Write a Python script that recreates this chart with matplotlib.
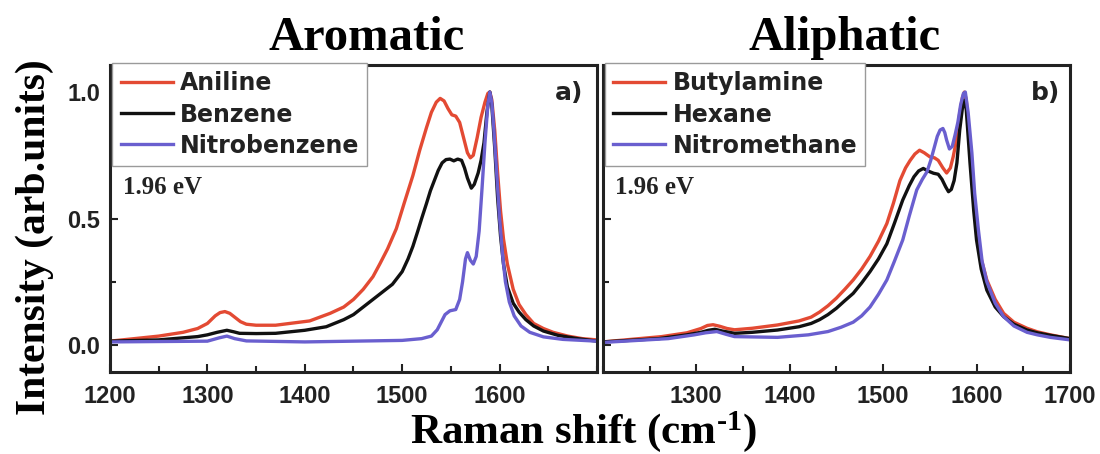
import matplotlib
matplotlib.use('Agg')
import matplotlib.pyplot as plt
from matplotlib.ticker import MultipleLocator, FixedLocator, FormatStrFormatter

# ---- data (Raman shift in cm-1, normalised intensity) ----
aniline_x = [1200, 1250, 1275, 1290, 1300, 1308, 1313, 1318, 1323, 1328, 1334, 1340, 1350,
             1370, 1405, 1426, 1440, 1450, 1460, 1470, 1477, 1485, 1494, 1502, 1511, 1518,
             1525, 1530, 1535, 1539, 1543, 1547, 1551, 1555, 1559, 1563, 1567, 1570, 1573,
             1577, 1581, 1585, 1588, 1590, 1592, 1595, 1598, 1601, 1604, 1608, 1614, 1620,
             1627, 1635, 1645, 1655, 1670, 1685, 1700]
aniline_y = [0.015, 0.035, 0.05, 0.065, 0.085, 0.115, 0.128, 0.132, 0.125, 0.11, 0.092, 0.082,
             0.078, 0.078, 0.095, 0.125, 0.15, 0.18, 0.22, 0.27, 0.32, 0.38, 0.46, 0.56, 0.67,
             0.77, 0.86, 0.92, 0.96, 0.975, 0.965, 0.935, 0.91, 0.905, 0.88, 0.82, 0.76, 0.74,
             0.75, 0.82, 0.9, 0.96, 0.995, 1.0, 0.97, 0.85, 0.68, 0.53, 0.42, 0.32, 0.22, 0.16,
             0.12, 0.085, 0.065, 0.05, 0.035, 0.025, 0.02]

benzene_x = [1200, 1250, 1290, 1300, 1310, 1320, 1327, 1333, 1350, 1370, 1400, 1422, 1440,
             1450, 1460, 1470, 1480, 1490, 1500, 1506, 1511, 1516, 1520, 1525, 1529, 1533,
             1537, 1541, 1545, 1549, 1553, 1557, 1561, 1564, 1567, 1571, 1574, 1578, 1581,
             1584, 1587, 1590, 1592, 1595, 1598, 1601, 1604, 1608, 1614, 1620, 1627, 1635,
             1645, 1660, 1680, 1700]
benzene_y = [0.015, 0.02, 0.033, 0.04, 0.05, 0.058, 0.052, 0.046, 0.045, 0.046, 0.058, 0.072,
             0.1, 0.12, 0.15, 0.18, 0.21, 0.24, 0.29, 0.34, 0.39, 0.45, 0.5, 0.56, 0.61, 0.65,
             0.69, 0.72, 0.733, 0.735, 0.728, 0.735, 0.73, 0.7, 0.66, 0.62, 0.635, 0.68, 0.73,
             0.8, 0.92, 1.0, 0.95, 0.78, 0.58, 0.43, 0.32, 0.23, 0.165, 0.13, 0.1, 0.075,
             0.055, 0.038, 0.025, 0.015]

nitrobenzene_x = [1200, 1300, 1312, 1320, 1328, 1340, 1400, 1500, 1520, 1530, 1536, 1540,
                  1544, 1549, 1555, 1559, 1562, 1565, 1567, 1570, 1573, 1576, 1579, 1582,
                  1585, 1588, 1590, 1592, 1594, 1597, 1600, 1603, 1606, 1610, 1615, 1622,
                  1631, 1645, 1665, 1700]
nitrobenzene_y = [0.012, 0.015, 0.028, 0.035, 0.025, 0.016, 0.012, 0.018, 0.025, 0.035, 0.06,
                  0.09, 0.12, 0.135, 0.14, 0.18, 0.25, 0.34, 0.365, 0.335, 0.32, 0.35, 0.45,
                  0.62, 0.8, 0.95, 1.0, 0.96, 0.86, 0.68, 0.5, 0.36, 0.25, 0.17, 0.115, 0.075,
                  0.05, 0.032, 0.022, 0.015]

butylamine_x = [1200, 1263, 1290, 1305, 1312, 1318, 1325, 1333, 1341, 1360, 1387, 1410,
                1423, 1432, 1441, 1450, 1459, 1468, 1477, 1486, 1495, 1504, 1511, 1518,
                1524, 1529, 1534, 1539, 1544, 1550, 1555, 1559, 1564, 1568, 1572, 1575,
                1578, 1582, 1585, 1587, 1589, 1593, 1597, 1600, 1605, 1611, 1620, 1629,
                1640, 1654, 1665, 1679, 1700]
butylamine_y = [0.012, 0.033, 0.048, 0.065, 0.077, 0.08, 0.074, 0.065, 0.06, 0.066, 0.079,
                0.095, 0.11, 0.13, 0.155, 0.185, 0.22, 0.257, 0.3, 0.35, 0.41, 0.48, 0.56,
                0.65, 0.7, 0.73, 0.755, 0.77, 0.76, 0.744, 0.74, 0.73, 0.7, 0.68, 0.7, 0.744,
                0.8, 0.916, 0.98, 1.0, 0.97, 0.78, 0.58, 0.455, 0.34, 0.257, 0.18, 0.125,
                0.09, 0.066, 0.052, 0.04, 0.025]

hexane_x = [1200, 1260, 1290, 1305, 1313, 1320, 1328, 1341, 1360, 1387, 1410, 1423, 1432,
            1441, 1450, 1459, 1468, 1477, 1486, 1495, 1504, 1512, 1521, 1528, 1533, 1538,
            1543, 1548, 1554, 1559, 1563, 1567, 1570, 1573, 1576, 1579, 1582, 1585, 1587,
            1589, 1593, 1597, 1600, 1605, 1611, 1620, 1629, 1640, 1654, 1665, 1679, 1700]
hexane_y = [0.012, 0.025, 0.04, 0.05, 0.058, 0.062, 0.055, 0.046, 0.05, 0.059, 0.072, 0.085,
            0.1, 0.12, 0.145, 0.175, 0.204, 0.245, 0.29, 0.34, 0.40, 0.48, 0.573, 0.63,
            0.665, 0.688, 0.698, 0.688, 0.679, 0.675, 0.655, 0.625, 0.606, 0.615, 0.65,
            0.72, 0.85, 0.94, 0.968, 0.93, 0.72, 0.53, 0.415, 0.3, 0.217, 0.15, 0.112,
            0.082, 0.059, 0.048, 0.038, 0.025]

nitromethane_x = [1200, 1270, 1298, 1310, 1322, 1332, 1341, 1387, 1420, 1441, 1455, 1468,
                  1477, 1486, 1495, 1504, 1512, 1521, 1528, 1536, 1542, 1547, 1551, 1555,
                  1558, 1561, 1564, 1566, 1568, 1571, 1574, 1577, 1580, 1583, 1586, 1588,
                  1591, 1595, 1598, 1602, 1606, 1611, 1620, 1629, 1640, 1654, 1665, 1679, 1700]
nitromethane_y = [0.01, 0.025, 0.04, 0.048, 0.053, 0.042, 0.033, 0.03, 0.04, 0.053, 0.07, 0.09,
                  0.115, 0.15, 0.2, 0.257, 0.33, 0.415, 0.51, 0.613, 0.655, 0.685, 0.73, 0.784,
                  0.825, 0.85, 0.856, 0.84, 0.81, 0.775, 0.785, 0.83, 0.88, 0.95, 0.995, 1.0,
                  0.92, 0.76, 0.6, 0.455, 0.33, 0.25, 0.165, 0.112, 0.075, 0.05, 0.04, 0.03, 0.02]

RED = '#e34a33'
BLACK = '#111111'
BLUE = '#6a5fcf'

SERIF = 'Liberation Serif'
NARROW = ['Liberation Sans Narrow', 'Liberation Sans', 'DejaVu Sans']

plt.rcParams['mathtext.fontset'] = 'custom'
plt.rcParams['mathtext.rm'] = 'Liberation Serif:bold'
plt.rcParams['mathtext.default'] = 'rm'

fig = plt.figure(figsize=(11, 4.54), dpi=100)
ax1 = fig.add_axes([0.100, 0.1806, 0.4427, 0.6762])
ax2 = fig.add_axes([0.548, 0.1806, 0.4247, 0.6762])

panels = [
    (ax1, [(aniline_x, aniline_y, RED, 'Aniline'),
           (benzene_x, benzene_y, BLACK, 'Benzene'),
           (nitrobenzene_x, nitrobenzene_y, BLUE, 'Nitrobenzene')],
     'a)', [1200, 1300, 1400, 1500, 1600], 0.971),
    (ax2, [(butylamine_x, butylamine_y, RED, 'Butylamine'),
           (hexane_x, hexane_y, BLACK, 'Hexane'),
           (nitromethane_x, nitromethane_y, BLUE, 'Nitromethane')],
     'b)', [1300, 1400, 1500, 1600, 1700], 0.979),
]

for ax, curves, tag, xt, tagx in panels:
    for x, y, c, lab in curves:
        ax.plot(x, y, color=c, lw=2.4, label=lab, solid_joinstyle='round')
    ax.set_xlim(1200, 1700)
    ax.set_ylim(-0.107, 1.107)
    ax.xaxis.set_major_locator(FixedLocator(xt))
    ax.xaxis.set_minor_locator(MultipleLocator(50))
    ax.yaxis.set_major_locator(FixedLocator([0.0, 0.5, 1.0]))
    ax.yaxis.set_minor_locator(MultipleLocator(0.25))
    ax.tick_params(which='both', direction='in', top=False, right=False, width=1.5, color='#222222')
    ax.tick_params(which='major', length=6, pad=9)
    ax.tick_params(which='minor', length=4)
    for s in ax.spines.values():
        s.set_linewidth(2.2)
        s.set_color('#222222')
    for lbl in ax.get_xticklabels():
        lbl.set_family(NARROW)
        lbl.set_fontsize(17)
        lbl.set_fontweight('bold')
        lbl.set_color('#222222')
    leg = ax.legend(loc='upper left', bbox_to_anchor=(0.005, 1.006), borderaxespad=0,
                    frameon=True, fancybox=False, framealpha=1, edgecolor='#9a9a9a',
                    prop={'family': 'DejaVu Sans', 'weight': 'bold', 'size': 17},
                    handlelength=2.2, handletextpad=0.3, labelspacing=0.3, borderpad=0.35)
    leg.get_frame().set_linewidth(1.0)
    for t in leg.get_texts():
        t.set_color('#222222')
    ax.text(tagx, 0.909, tag, transform=ax.transAxes, ha='right', va='center',
            fontsize=18, fontweight='bold', family='DejaVu Sans', color='#222222')
    ax.text(0.026, 0.60, '1.96 eV', transform=ax.transAxes, ha='left', va='center',
            fontsize=18, fontweight='bold', family=SERIF, color='#222222')

for lbl in ax1.get_yticklabels():
    lbl.set_family(NARROW)
    lbl.set_fontsize(17)
    lbl.set_fontweight('bold')
    lbl.set_color('#222222')
ax1.tick_params(axis='y', pad=7)
ax1.yaxis.set_major_formatter(FormatStrFormatter('%.1f'))
ax2.set_yticklabels([])

fig.text(367 / 1100, 1 - 50 / 454, 'Aromatic', ha='center', va='baseline',
         fontsize=35, fontweight='bold', family=SERIF)
fig.text(845 / 1100, 1 - 50 / 454, 'Aliphatic', ha='center', va='baseline',
         fontsize=35, fontweight='bold', family=SERIF)
fig.text(35 / 1100, 1 - 237 / 454, 'Intensity (arb.units)', rotation=90, ha='center',
         va='center', fontsize=30, fontweight='bold', family=SERIF)
fig.text(583 / 1100, 1 - 432 / 454, r'Raman shift (cm$^{\text{-}1}$)', ha='center', va='center',
         fontsize=31, fontweight='bold', family=SERIF)

fig.savefig('out.png', dpi=100)
